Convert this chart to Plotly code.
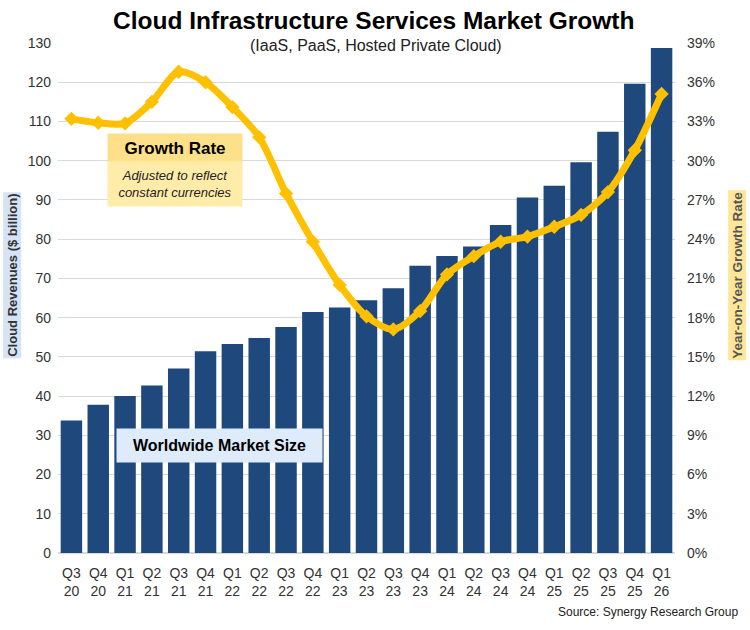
import plotly.graph_objects as go

# ============================================
# Data
# ============================================

quarters = [
    "Q3<br>20", "Q4<br>20", "Q1<br>21", "Q2<br>21", "Q3<br>21", "Q4<br>21",
    "Q1<br>22", "Q2<br>22", "Q3<br>22", "Q4<br>22", "Q1<br>23", "Q2<br>23",
    "Q3<br>23", "Q4<br>23", "Q1<br>24", "Q2<br>24", "Q3<br>24", "Q4<br>24",
    "Q1<br>25", "Q2<br>25", "Q3<br>25", "Q4<br>25", "Q1<br>26"
]

revenue = [
    33.8, 37.8, 40.0, 42.7, 47.0, 51.4,
    53.3, 54.8, 57.6, 61.4, 62.6, 64.4,
    67.5, 73.2, 75.7, 78.1, 83.6, 90.6,
    93.6, 99.6, 107.4, 119.6, 128.7
]

growth = [
    33.2, 32.9, 32.85, 34.5, 36.8, 36.0,
    34.1, 31.8, 27.5, 23.8, 20.5, 18.1,
    17.1, 18.5, 21.3, 22.7, 23.8, 24.2,
    24.95, 25.85, 27.6, 30.8, 35.1
]

left_ticks = list(range(0, 131, 10))
right_ticks = list(range(0, 40, 3))
right_labels = [f"{v}%" for v in right_ticks]

FONT = "Liberation Sans, Arial, sans-serif"
NAVY = "#1F497D"
GOLD = "#FFC000"
TICK = "#333333"

# ============================================
# Chart
# ============================================

fig = go.Figure()

fig.add_trace(
    go.Bar(
        x=quarters,
        y=revenue,
        marker=dict(color=NAVY, line=dict(width=0)),
        name="Worldwide Market Size",
        yaxis="y"
    )
)

fig.add_trace(
    go.Scatter(
        x=quarters,
        y=growth,
        mode="lines+markers",
        line=dict(color=GOLD, width=7, shape="spline", smoothing=0.8),
        marker=dict(symbol="diamond", size=11, color=GOLD),
        name="Growth Rate",
        yaxis="y2"
    )
)

fig.update_layout(

    width=750,
    height=630,

    margin=dict(l=58, r=75, t=43, b=77, autoexpand=False),

    paper_bgcolor="white",
    plot_bgcolor="white",

    font=dict(family=FONT, color=TICK, size=14),

    showlegend=False,

    bargap=0.2,

    xaxis=dict(
        type="category",
        range=[-0.5, len(quarters) - 0.5],
        showgrid=False,
        showline=False,
        ticks="",
        ticklabelstandoff=10,
        tickfont=dict(size=14, color=TICK)
    ),

    yaxis=dict(
        range=[0, 130],
        tickvals=left_ticks,
        showgrid=True,
        gridcolor="#D9D9D9",
        gridwidth=1,
        zeroline=True,
        zerolinecolor="#D9D9D9",
        ticks="",
        ticklabelstandoff=6,
        tickfont=dict(size=14, color=TICK)
    ),

    yaxis2=dict(
        range=[0, 39],
        tickvals=right_ticks,
        ticktext=right_labels,
        overlaying="y",
        side="right",
        showgrid=False,
        zeroline=False,
        ticks="",
        ticklabelstandoff=11,
        tickfont=dict(size=14, color=TICK)
    ),

    shapes=[
        dict(
            type="rect",
            xref="paper", yref="paper",
            x0=0.0875, x1=0.9465,
            y0=0.99, y1=1.012,
            fillcolor="white",
            line=dict(width=0),
            layer="between"
        )
    ]

)

annotations = [
    dict(
        text="<b>Cloud Infrastructure Services Market Growth</b>",
        xref="paper", yref="paper",
        x=0.512, y=1.045,
        xanchor="center", yanchor="middle",
        showarrow=False,
        font=dict(size=24.5, color="black", family=FONT)
    ),
    dict(
        text="(IaaS, PaaS, Hosted Private Cloud)",
        xref="paper", yref="paper",
        x=0.515, y=0.996,
        xanchor="center", yanchor="middle",
        showarrow=False,
        font=dict(size=16, color="#222222", family=FONT)
    ),
    dict(
        text="<b>Cloud Revenues ($ billion)</b>",
        xref="paper", yref="paper",
        x=-0.075, y=0.545,
        xanchor="center", yanchor="middle",
        textangle=-90,
        showarrow=False,
        bgcolor="#D5E3F5",
        borderpad=1,
        font=dict(size=13, color="#333333", family=FONT)
    ),
    dict(
        text="<b>Year-on-Year Growth Rate</b>",
        xref="paper", yref="paper",
        x=1.1, y=0.545,
        xanchor="center", yanchor="middle",
        textangle=-90,
        showarrow=False,
        bgcolor="#FFE699",
        borderpad=1,
        font=dict(size=13.5, color="#555555", family=FONT)
    ),
    dict(
        text="<b>Growth Rate</b>",
        xref="paper", yref="paper",
        x=0.19, y=0.794,
        xanchor="center", yanchor="middle",
        showarrow=False,
        bgcolor="#FFE08A",
        width=134,
        height=28,
        borderpad=0,
        font=dict(size=17, color="black", family=FONT)
    ),
    dict(
        text="<i>Adjusted to reflect<br>constant currencies</i>",
        xref="paper", yref="paper",
        x=0.19, y=0.7235,
        xanchor="center", yanchor="middle",
        showarrow=False,
        bgcolor="#FFECA8",
        width=134,
        height=44,
        borderpad=0,
        font=dict(size=13, color="#222222", family=FONT)
    ),
    dict(
        text="<b>Worldwide Market Size</b>",
        xref="paper", yref="paper",
        x=0.2618, y=0.2108,
        xanchor="center", yanchor="middle",
        showarrow=False,
        bgcolor="#DDEBFA",
        width=205,
        height=33,
        borderpad=0,
        font=dict(size=16, color="black", family=FONT)
    ),
    dict(
        text="Source: Synergy Research Group",
        xref="paper", yref="paper",
        x=1.105, y=-0.1157,
        xanchor="right", yanchor="middle",
        showarrow=False,
        font=dict(size=12, color="#222222", family=FONT)
    ),
]

fig.update_layout(annotations=annotations)

fig.write_html(
    "out.html",
    config={"displayModeBar": False},
    post_script="document.body.style.margin='0';"
)
